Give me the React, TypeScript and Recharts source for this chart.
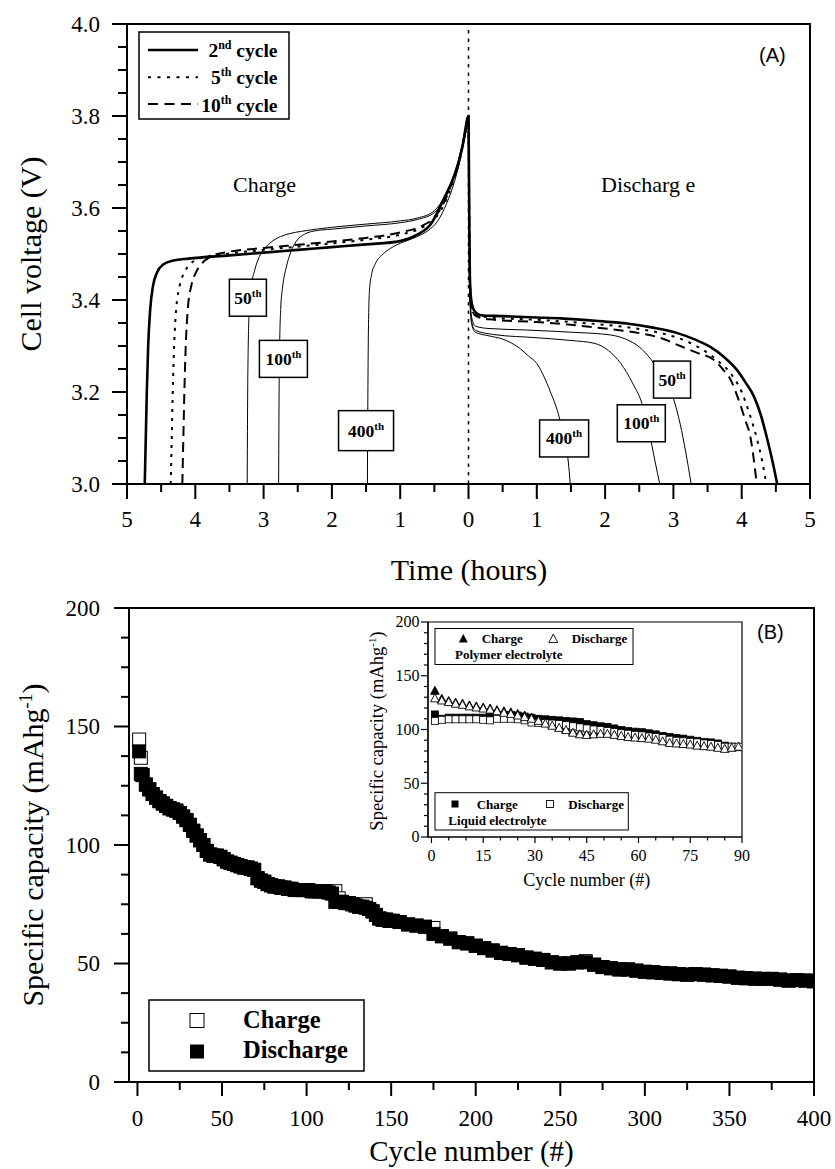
import React from 'react';
import {
  LineChart,
  Line,
  ScatterChart,
  Scatter,
  XAxis,
  YAxis,
  ReferenceLine,
  ReferenceArea,
  ReferenceDot,
} from 'recharts';

const SERIF = '"Liberation Serif", "Times New Roman", Times, serif';
const SANS = '"Liberation Sans", Arial, Helvetica, sans-serif';

type Pt = [number, number];

// ---- (A) voltage profiles, [hours, volts]. Charge hours count back to the end of charge.
const cycle2Charge: Pt[] = [
  [4.74, 3.0], [4.725, 3.1], [4.71, 3.2], [4.69, 3.3], [4.66, 3.38], [4.62, 3.43], [4.56, 3.46],
  [4.47, 3.477], [4.32, 3.486], [4.1, 3.49], [3.5, 3.497], [3.0, 3.503], [2.5, 3.509], [2.0, 3.515],
  [1.5, 3.521], [1.0, 3.528], [0.75, 3.542], [0.55, 3.565], [0.37, 3.617], [0.25, 3.655],
  [0.16, 3.69], [0.08, 3.74], [0, 3.8],
];
const cycle2Discharge: Pt[] = [
  [0.01, 3.6], [0.02, 3.45], [0.04, 3.4], [0.08, 3.378], [0.18, 3.367], [0.5, 3.365], [1.0, 3.362],
  [1.35, 3.36], [2.0, 3.353], [2.32, 3.349], [2.7, 3.34], [3.06, 3.328], [3.3, 3.315], [3.54, 3.298],
  [3.75, 3.275], [3.93, 3.248], [4.05, 3.222], [4.18, 3.19], [4.28, 3.15], [4.37, 3.1], [4.45, 3.05],
  [4.52, 3.0],
];
const cycle5Charge: Pt[] = [
  [4.36, 3.0], [4.345, 3.1], [4.33, 3.2], [4.31, 3.3], [4.28, 3.38], [4.23, 3.43], [4.16, 3.46],
  [4.06, 3.48], [3.9, 3.492], [3.5, 3.501], [3.0, 3.509], [2.5, 3.516], [2.0, 3.523], [1.5, 3.531],
  [1.0, 3.542], [0.7, 3.556], [0.5, 3.576], [0.35, 3.61], [0.22, 3.66], [0.12, 3.71], [0.05, 3.76],
  [0, 3.8],
];
const cycle5Discharge: Pt[] = [
  [0.01, 3.6], [0.02, 3.44], [0.05, 3.385], [0.1, 3.37], [0.3, 3.362], [1.0, 3.357], [1.5, 3.352],
  [2.0, 3.346], [2.5, 3.337], [2.9, 3.325], [3.2, 3.31], [3.45, 3.29], [3.65, 3.268], [3.85, 3.238],
  [4.0, 3.2], [4.12, 3.15], [4.22, 3.1], [4.3, 3.05], [4.36, 3.0],
];
const cycle10Charge: Pt[] = [
  [4.19, 3.0], [4.175, 3.1], [4.16, 3.2], [4.14, 3.3], [4.11, 3.38], [4.06, 3.43], [3.99, 3.46],
  [3.9, 3.48], [3.75, 3.496], [3.5, 3.505], [3.0, 3.513], [2.5, 3.52], [2.0, 3.527], [1.5, 3.535],
  [1.0, 3.547], [0.7, 3.56], [0.5, 3.58], [0.35, 3.615], [0.22, 3.665], [0.12, 3.715], [0.05, 3.765],
  [0, 3.8],
];
const cycle10Discharge: Pt[] = [
  [0.01, 3.6], [0.02, 3.44], [0.05, 3.382], [0.1, 3.366], [0.3, 3.358], [1.0, 3.352], [1.5, 3.346],
  [2.0, 3.338], [2.5, 3.328], [2.8, 3.318], [3.1, 3.3], [3.35, 3.285], [3.59, 3.27], [3.72, 3.25],
  [3.84, 3.226], [3.95, 3.185], [4.05, 3.14], [4.13, 3.1], [4.18, 3.05], [4.22, 3.0],
];
const cycle50Charge: Pt[] = [
  [3.24, 3.0], [3.237, 3.1], [3.233, 3.2], [3.225, 3.3], [3.21, 3.38], [3.18, 3.43], [3.13, 3.465],
  [3.06, 3.495], [3.0, 3.509], [2.88, 3.527], [2.75, 3.538], [2.6, 3.545], [2.46, 3.549], [2.0, 3.558],
  [1.5, 3.565], [1.0, 3.572], [0.75, 3.578], [0.5, 3.594], [0.35, 3.625], [0.22, 3.67], [0.12, 3.72],
  [0.05, 3.765], [0, 3.8],
];
const cycle50Discharge: Pt[] = [
  [0.01, 3.6], [0.02, 3.42], [0.05, 3.36], [0.1, 3.343], [0.3, 3.338], [0.8, 3.335], [1.5, 3.33],
  [2.08, 3.324], [2.3, 3.315], [2.5, 3.298], [2.66, 3.273], [2.85, 3.23], [3.0, 3.186], [3.1, 3.13],
  [3.18, 3.07], [3.26, 3.0],
];
const cycle100Charge: Pt[] = [
  [2.78, 3.0], [2.777, 3.1], [2.773, 3.2], [2.765, 3.3], [2.75, 3.38], [2.72, 3.43], [2.67, 3.47],
  [2.6, 3.505], [2.52, 3.528], [2.4, 3.543], [2.26, 3.55], [2.0, 3.554], [1.5, 3.561], [1.0, 3.568],
  [0.75, 3.575], [0.5, 3.59], [0.35, 3.62], [0.22, 3.665], [0.12, 3.715], [0.05, 3.765], [0, 3.8],
];
const cycle100Discharge: Pt[] = [
  [0.01, 3.6], [0.02, 3.41], [0.05, 3.35], [0.1, 3.334], [0.37, 3.325], [1.0, 3.318], [1.5, 3.312],
  [1.84, 3.306], [2.05, 3.29], [2.23, 3.262], [2.4, 3.22], [2.54, 3.175], [2.65, 3.11], [2.73, 3.05],
  [2.8, 3.0],
];
const cycle400Charge: Pt[] = [
  [1.48, 3.0], [1.477, 3.1], [1.473, 3.2], [1.468, 3.3], [1.46, 3.38], [1.45, 3.42], [1.42, 3.455],
  [1.36, 3.48], [1.25, 3.5], [1.1, 3.516], [0.9, 3.529], [0.75, 3.538], [0.6, 3.55], [0.45, 3.572],
  [0.32, 3.61], [0.2, 3.66], [0.1, 3.72], [0.04, 3.765], [0, 3.8],
];
const cycle400Discharge: Pt[] = [
  [0.01, 3.6], [0.02, 3.4], [0.05, 3.345], [0.1, 3.33], [0.3, 3.322], [0.5, 3.315], [0.61, 3.308],
  [0.75, 3.295], [0.88, 3.278], [1.0, 3.262], [1.1, 3.235], [1.2, 3.2], [1.3, 3.16], [1.4, 3.1],
  [1.46, 3.05], [1.49, 3.0],
];

// cycle tags on panel A (time in signed hours, volts)
const cycleTags = [
  { n: '50', t: -3.23, v: 3.405, w: 37, h: 37 },
  { n: '100', t: -2.71, v: 3.272, w: 48, h: 37 },
  { n: '400', t: -1.5, v: 3.116, w: 55, h: 40 },
  { n: '50', t: 2.98, v: 3.227, w: 37, h: 37 },
  { n: '100', t: 2.53, v: 3.132, w: 48, h: 37 },
  { n: '400', t: 1.4, v: 3.099, w: 49, h: 37 },
];

// ---- (B) specific capacity vs cycle number
const cycleNumbers = [
  1, 2,
  3, 5, 7, 9, 11, 13, 15, 17, 19, 21,
  23, 25, 27, 29, 31, 33, 35, 37, 39, 41,
  43, 45, 47, 49, 51, 53, 55, 57, 59, 61,
  63, 65, 67, 69, 71, 73, 75, 77, 79, 81,
  83, 85, 87, 89, 91, 93, 95, 97, 99, 101,
  103, 105, 107, 109, 111, 113, 115, 117, 119, 121,
  123, 125, 127, 129, 131, 133, 135, 137, 139, 141,
  143, 145, 147, 149, 151,
  155, 160, 165, 170, 175, 180, 185, 190, 195, 200,
  205, 210, 215, 220, 225, 230, 235, 240, 245, 250,
  255, 260, 265, 270, 275, 280, 285, 290, 295, 300,
  305, 310, 315, 320, 325, 330, 335, 340, 345, 350,
  355, 360, 365, 370, 375, 380, 385, 390, 395, 400,
];
const chargeCapacity = [
  144.5, 136.8,
  129.5, 125.5, 123.5, 121.5, 120, 118.5, 117.5, 116.5, 115.5, 115,
  114.5, 113.5, 112, 110.5, 108.5, 106, 104, 102, 100, 97.5,
  96, 95.5, 95.5, 95, 94, 93, 92.5, 92, 91.5, 91,
  90.5, 90.5, 90, 89.5, 86, 85, 84.5, 83.5, 83, 82.5,
  82.5, 82, 82, 81.5, 81.5, 81, 81, 81, 81, 81,
  80.5, 80.5, 80.5, 80.5, 80.5, 80, 80, 80.5, 77.5, 76,
  75.5, 75.5, 75, 74.5, 74, 74, 75, 73, 72, 70.5,
  69, 68.5, 68.5, 68, 68,
  67.5, 66.5, 66, 65.5, 65, 61.5, 60.5, 59, 58.5, 57.5,
  56.5, 55.5, 54.5, 54, 53.5, 52.5, 52, 51.5, 50.5, 50,
  50, 50.5, 51, 49.5, 48.5, 48, 47.5, 47.5, 47, 46.5,
  46.3, 46, 45.8, 45.5, 45.3, 45.5, 45.3, 45, 44.8, 44.5,
  44, 43.8, 43.6, 43.5, 43.5, 43.2, 42.8, 43, 42.8, 42.5,
];
const dischargeCapacity = [
  139.5, 130,
  129.5, 125.5, 123.5, 121.5, 120, 118.5, 117.5, 116.5, 115.5, 115,
  114.5, 113.5, 112, 110.5, 108.5, 106, 104, 102, 100, 97.5,
  96, 95.5, 95.5, 95, 94, 93, 92.5, 92, 91.5, 91,
  90.5, 90.5, 90, 89.5, 86, 85, 84.5, 83.5, 83, 82.5,
  82.5, 82, 82, 81.5, 81.5, 81, 81, 81, 81, 81,
  80.5, 80.5, 80.5, 80.5, 80.5, 80, 79.5, 76, 76, 76,
  75.5, 75.5, 75, 74.5, 74, 74, 73.5, 73, 72, 70.5,
  69, 68.5, 68.5, 68, 68,
  67.5, 66.5, 66, 65.5, 62.5, 61.5, 60.5, 59, 58.5, 57.5,
  56.5, 55.5, 54.5, 54, 53.5, 52.5, 52, 51.5, 50.5, 50,
  50, 50.5, 50.5, 49.5, 48.5, 48, 47.5, 47.5, 47, 46.5,
  46.3, 46, 45.8, 45.5, 45.3, 45.5, 45.3, 45, 44.8, 44.5,
  44, 43.8, 43.6, 43.5, 43.5, 43.2, 42.8, 43, 42.8, 42.5,
];

// ---- inset: first 90 cycles, polymer vs liquid electrolyte
const insetCycles = [
  1, 3, 5, 7, 9, 11, 13, 15, 17, 19, 21, 23, 25, 27, 29, 31, 33, 35, 37, 39, 41, 43, 45, 47, 49, 51, 53,
  55, 57, 59, 61, 63, 65, 67, 69, 71, 73, 75, 77, 79, 81, 83, 85, 87, 89,
];
const polymerCharge = [
  136, 128.5, 126.5, 125, 124, 122.5, 121.5, 120.5, 119.5, 118, 117, 116, 114.5, 113, 111, 109, 106.5,
  104.5, 102.5, 100.5, 98, 96.5, 96, 96.5, 97, 97, 96, 95, 94, 93.5, 93, 92.5, 91.5, 90, 88.5, 88, 87.5,
  87, 86, 85.5, 85, 84, 83, 83.5, 84,
];
const polymerDischarge = [
  129, 127, 125.5, 124, 123, 121.5, 120.5, 119.5, 118.5, 117, 115.5, 114.5, 113, 111.5, 110, 108, 105.5,
  103.5, 101.5, 99.5, 97, 95.5, 95, 95.5, 96, 96, 95, 94, 93, 92.5, 92, 91.5, 90.5, 89, 87.5, 87, 86.5,
  86, 85, 84.5, 84, 83, 82, 83, 84,
];
const liquidCharge = [
  114, 110, 111, 111, 111, 111, 111, 111, 111.5, 112, 113, 113.5, 113, 112, 111, 110, 109.5, 109, 108.5,
  108, 107.5, 107, 105, 104, 103, 102.5, 101, 99.5, 98.5, 98, 97.5, 96.5, 95.5, 94, 93, 92, 91.5, 90.5,
  89.5, 88.5, 88, 87, 85, 84, 83.5,
];
const liquidDischarge = [
  108, 109, 109.5, 109.5, 109.5, 109.5, 109.5, 109, 108.5, 110, 110, 110, 109.5, 108.5, 106.5, 106, 106,
  105.5, 105, 104, 103, 102, 101, 100, 99.5, 98.5, 97.5, 96.5, 96, 95, 94.5, 93.5, 93, 92, 90.5, 89.5,
  89, 88.5, 88, 87, 86.5, 85.5, 84, 84, 84,
];

// ---- tick values
const hourTicks = Array.from({ length: 21 }, (_, i) => -5 + i * 0.5);
const voltTicks = Array.from({ length: 21 }, (_, i) => (300 + i * 5) / 100);
const cycleTicks = Array.from({ length: 17 }, (_, i) => i * 25);
const capacityTicks = Array.from({ length: 17 }, (_, i) => i * 12.5);
const insetCycleTicks = Array.from({ length: 19 }, (_, i) => i * 5);
const insetCapacityTicks = Array.from({ length: 21 }, (_, i) => i * 10);

function profile(charge: Pt[], discharge: Pt[]) {
  return [
    ...charge.map(([h, v]) => ({ t: -h, v })),
    ...discharge.map(([h, v]) => ({ t: h, v })),
  ];
}

const zip = (xs: number[], ys: number[]) => xs.map((c, i) => ({ c, v: ys[i] }));

const profiles = [
  { name: '400th', data: profile(cycle400Charge, cycle400Discharge), width: 1 },
  { name: '100th', data: profile(cycle100Charge, cycle100Discharge), width: 1 },
  { name: '50th', data: profile(cycle50Charge, cycle50Discharge), width: 1 },
  { name: '10th', data: profile(cycle10Charge, cycle10Discharge), width: 2, dash: '10 6' },
  { name: '5th', data: profile(cycle5Charge, cycle5Discharge), width: 2, dash: '3 6' },
  { name: '2nd', data: profile(cycle2Charge, cycle2Discharge), width: 2.6 },
];

type TickCfg = {
  major: (v: number) => boolean;
  label: (v: number) => string;
  majorLen: number;
  minorLen: number;
  gap: number;
  size: number;
  width: number;
};

const bottomTick = (cfg: TickCfg) => (p: any) => {
  const v = p.payload.value;
  const isMajor = cfg.major(v);
  return (
    <g>
      <line x1={p.x} x2={p.x} y1={p.y} y2={p.y + (isMajor ? cfg.majorLen : cfg.minorLen)} stroke="#000" strokeWidth={cfg.width} />
      {isMajor && (
        <text x={p.x} y={p.y + cfg.gap} textAnchor="middle" fontFamily={SERIF} fontSize={cfg.size} fill="#000">
          {cfg.label(v)}
        </text>
      )}
    </g>
  );
};

const leftTick = (cfg: TickCfg) => (p: any) => {
  const v = p.payload.value;
  const isMajor = cfg.major(v);
  return (
    <g>
      <line x1={p.x - (isMajor ? cfg.majorLen : cfg.minorLen)} x2={p.x} y1={p.y} y2={p.y} stroke="#000" strokeWidth={cfg.width} />
      {isMajor && (
        <text x={p.x - cfg.gap} y={p.y + cfg.size * 0.34} textAnchor="end" fontFamily={SERIF} fontSize={cfg.size} fill="#000">
          {cfg.label(v)}
        </text>
      )}
    </g>
  );
};

const axisStyle = { stroke: '#000', strokeWidth: 2 };

function CycleTag({ cx, cy, n, w, h }: { cx: number; cy: number; n: string; w: number; h: number }) {
  return (
    <g>
      <rect x={cx - w / 2} y={cy - h / 2} width={w} height={h} fill="#fff" stroke="#000" strokeWidth={1.5} />
      <text x={cx} y={cy + 6} textAnchor="middle" fontFamily={SERIF} fontWeight="bold" fontSize={17.5} fill="#000">
        {n}
        <tspan dy={-7} fontSize={11}>th</tspan>
      </text>
    </g>
  );
}

const square = (size: number, filled: boolean, sw = 1) => (p: any) => (
  <rect x={p.cx - size / 2} y={p.cy - size / 2} width={size} height={size} fill={filled ? '#000' : '#fff'} stroke="#000" strokeWidth={sw} />
);

const triangle = (filled: boolean) => (p: any) => (
  <polygon
    points={`${p.cx},${p.cy - 4.5} ${p.cx + 4.3},${p.cy + 3.5} ${p.cx - 4.3},${p.cy + 3.5}`}
    fill={filled ? '#000' : '#fff'}
    stroke="#000"
    strokeWidth={0.9}
  />
);

function VoltageChart() {
  return (
    <LineChart width={835} height={590} margin={{ top: 24, right: 25, bottom: 0, left: 0 }}>
      <XAxis
        type="number"
        dataKey="t"
        domain={[-5, 5]}
        ticks={hourTicks}
        interval={0}
        allowDataOverflow
        tickSize={0}
        tickMargin={0}
        tickLine={false}
        axisLine={axisStyle}
        height={106}
        tick={bottomTick({
          major: (v) => Number.isInteger(v),
          label: (v) => String(Math.abs(v)),
          majorLen: 15,
          minorLen: 8,
          gap: 43,
          size: 23,
          width: 2,
        })}
      />
      <YAxis
        type="number"
        dataKey="v"
        domain={[3, 4]}
        ticks={voltTicks}
        interval={0}
        allowDataOverflow
        tickSize={0}
        tickMargin={0}
        tickLine={false}
        axisLine={axisStyle}
        width={127}
        tick={leftTick({
          major: (v) => Math.round(v * 100) % 20 === 0,
          label: (v) => v.toFixed(1),
          majorLen: 15,
          minorLen: 9,
          gap: 27,
          size: 23,
          width: 2,
        })}
      />
      <ReferenceLine x={0} stroke="#000" strokeWidth={1.5} strokeDasharray="3.5 5" />
      {profiles.map((p) => (
        <Line
          key={p.name}
          name={p.name}
          data={p.data}
          dataKey="v"
          type="monotone"
          stroke="#000"
          strokeWidth={p.width}
          strokeDasharray={p.dash}
          dot={false}
          activeDot={false}
          isAnimationActive={false}
        />
      ))}
      <ReferenceArea x1={-5} x2={5} y1={3} y2={4} fill="none" stroke="#000" strokeWidth={2} ifOverflow="visible" />
      {cycleTags.map((tag, i) => (
        <ReferenceDot
          key={i}
          x={tag.t}
          y={tag.v}
          r={1}
          ifOverflow="visible"
          shape={(sp: any) => <CycleTag cx={sp.cx} cy={sp.cy} n={tag.n} w={tag.w} h={tag.h} />}
        />
      ))}
    </LineChart>
  );
}

function CapacityChart() {
  return (
    <ScatterChart width={835} height={579} margin={{ top: 18, right: 21, bottom: 0, left: 0 }}>
      <XAxis
        type="number"
        dataKey="c"
        domain={[-5, 400]}
        ticks={cycleTicks}
        interval={0}
        allowDataOverflow
        tickSize={0}
        tickMargin={0}
        tickLine={false}
        axisLine={axisStyle}
        height={87}
        tick={bottomTick({
          major: (v) => v % 50 === 0,
          label: (v) => String(v),
          majorLen: 14,
          minorLen: 8,
          gap: 44,
          size: 23,
          width: 2,
        })}
      />
      <YAxis
        type="number"
        dataKey="v"
        domain={[0, 200]}
        ticks={capacityTicks}
        interval={0}
        allowDataOverflow
        tickSize={0}
        tickMargin={0}
        tickLine={false}
        axisLine={axisStyle}
        width={129}
        tick={leftTick({
          major: (v) => v % 50 === 0,
          label: (v) => String(v),
          majorLen: 15,
          minorLen: 8,
          gap: 29,
          size: 23,
          width: 2,
        })}
      />
      <Scatter name="Charge" data={zip(cycleNumbers, chargeCapacity)} shape={square(13, false)} isAnimationActive={false} />
      <Scatter name="Discharge" data={zip(cycleNumbers, dischargeCapacity)} shape={square(13, true)} isAnimationActive={false} />
      <ReferenceArea x1={-5} x2={400} y1={0} y2={200} fill="none" stroke="#000" strokeWidth={2} ifOverflow="visible" />
    </ScatterChart>
  );
}

function InsetChart() {
  return (
    <ScatterChart width={424} height={300} margin={{ top: 22, right: 22, bottom: 0, left: 0 }}>
      <XAxis
        type="number"
        dataKey="c"
        domain={[-1, 90]}
        ticks={insetCycleTicks}
        interval={0}
        allowDataOverflow
        tickSize={0}
        tickMargin={0}
        tickLine={false}
        axisLine={{ stroke: '#000', strokeWidth: 1.2 }}
        height={63}
        tick={bottomTick({
          major: (v) => v % 15 === 0,
          label: (v) => String(v),
          majorLen: 6,
          minorLen: 3.5,
          gap: 24,
          size: 16,
          width: 1.2,
        })}
      />
      <YAxis
        type="number"
        dataKey="v"
        domain={[0, 200]}
        ticks={insetCapacityTicks}
        interval={0}
        allowDataOverflow
        tickSize={0}
        tickMargin={0}
        tickLine={false}
        axisLine={{ stroke: '#000', strokeWidth: 1.2 }}
        width={88}
        tick={leftTick({
          major: (v) => v % 50 === 0,
          label: (v) => String(v),
          majorLen: 7,
          minorLen: 4,
          gap: 8.5,
          size: 16,
          width: 1.2,
        })}
      />
      <Scatter name="Liquid charge" data={zip(insetCycles, liquidCharge)} shape={square(7, true, 0.8)} isAnimationActive={false} />
      <Scatter name="Polymer charge" data={zip(insetCycles, polymerCharge)} shape={triangle(true)} isAnimationActive={false} />
      <Scatter name="Liquid discharge" data={zip(insetCycles, liquidDischarge)} shape={square(7, false, 0.8)} isAnimationActive={false} />
      <Scatter name="Polymer discharge" data={zip(insetCycles, polymerDischarge)} shape={triangle(false)} isAnimationActive={false} />
      <ReferenceArea x1={-1} x2={90} y1={0} y2={200} fill="none" stroke="#000" strokeWidth={1.2} ifOverflow="visible" />
    </ScatterChart>
  );
}

function Overlay() {
  return (
    <svg
      width={835}
      height={1169}
      style={{ position: 'absolute', left: 0, top: 0, pointerEvents: 'none' }}
      fontFamily={SERIF}
      fill="#000"
    >
      {/* panel A */}
      <text transform="translate(41,254) rotate(-90)" textAnchor="middle" fontSize={30}>Cell voltage (V)</text>
      <text x={469} y={580} textAnchor="middle" fontSize={30}>Time (hours)</text>
      <text x={233} y={192} fontSize={22}>Charge</text>
      <text x={601} y={192} fontSize={22}>Discharg e</text>
      <text x={759} y={61.5} fontFamily={SANS} fontSize={20}>(A)</text>

      <rect x={139} y={32} width={150} height={87} fill="#fff" stroke="#000" strokeWidth={1.5} />
      <line x1={148} x2={198} y1={50} y2={50} stroke="#000" strokeWidth={2.6} />
      <line x1={148} x2={198} y1={77.3} y2={77.3} stroke="#000" strokeWidth={2} strokeDasharray="3 6.5" />
      <line x1={148} x2={198} y1={104} y2={104} stroke="#000" strokeWidth={2} strokeDasharray="10 6.5" />
      <text x={277.5} y={56.7} textAnchor="end" fontWeight="bold" fontSize={19.5}>
        2<tspan dy={-8} fontSize={12}>nd</tspan><tspan dy={8}> cycle</tspan>
      </text>
      <text x={277.5} y={84} textAnchor="end" fontWeight="bold" fontSize={19.5}>
        5<tspan dy={-8} fontSize={12}>th</tspan><tspan dy={8}> cycle</tspan>
      </text>
      <text x={277.5} y={111.7} textAnchor="end" fontWeight="bold" fontSize={19.5}>
        10<tspan dy={-8} fontSize={12}>th</tspan><tspan dy={8}> cycle</tspan>
      </text>

      {/* panel B */}
      <text transform="translate(43,845) rotate(-90)" textAnchor="middle" fontSize={30}>
        Specific capacity (mAhg<tspan dy={-11} fontSize={18}>-1</tspan><tspan dy={11}>)</tspan>
      </text>
      <text x={471.5} y={1161} textAnchor="middle" fontSize={29}>Cycle number (#)</text>
      <text x={757} y={639} fontFamily={SANS} fontSize={20}>(B)</text>

      <rect x={149} y={1000} width={215} height={71} fill="#fff" stroke="#000" strokeWidth={1.5} />
      <rect x={190} y={1013.5} width={14} height={14} fill="#fff" stroke="#000" strokeWidth={1} />
      <text x={243} y={1028} fontWeight="bold" fontSize={24.5}>Charge</text>
      <rect x={190} y={1044.5} width={14} height={14} fill="#000" />
      <text x={243} y={1058} fontWeight="bold" fontSize={24.5}>Discharge</text>

      {/* inset legends and titles */}
      <rect x={435} y={628.5} width={198} height={36} fill="#fff" stroke="#000" strokeWidth={1} />
      <polygon points="463.3,634 467.8,642.5 458.8,642.5" fill="#000" />
      <text x={481.7} y={643.3} fontWeight="bold" fontSize={13}>Charge</text>
      <polygon points="553.3,634 557.8,642.5 548.8,642.5" fill="#fff" stroke="#000" strokeWidth={0.9} />
      <text x={571.7} y={643.3} fontWeight="bold" fontSize={13}>Discharge</text>
      <text x={455} y={658.5} fontWeight="bold" fontSize={13}>Polymer electrolyte</text>

      <rect x={435} y={792.7} width={193.3} height={37.3} fill="#fff" stroke="#000" strokeWidth={1} />
      <rect x={451.5} y={800.5} width={7} height={7} fill="#000" />
      <text x={476.7} y={808.5} fontWeight="bold" fontSize={13}>Charge</text>
      <rect x={546.5} y={800.5} width={7} height={7} fill="#fff" stroke="#000" strokeWidth={0.9} />
      <text x={568.3} y={808.5} fontWeight="bold" fontSize={13}>Discharge</text>
      <text x={448.3} y={825} fontWeight="bold" fontSize={13}>Liquid electrolyte</text>

      <text transform="translate(383,731) rotate(-90)" textAnchor="middle" fontSize={18.5}>
        Specific capacity (mAhg<tspan dy={-7} fontSize={11}>-1</tspan><tspan dy={7}>)</tspan>
      </text>
      <text x={586.7} y={886} textAnchor="middle" fontSize={18}>Cycle number (#)</text>
    </svg>
  );
}

export default function App() {
  return (
    <div style={{ position: 'absolute', left: 0, top: 0, width: 835, height: 1169, background: '#fff', overflow: 'hidden' }}>
      <div style={{ position: 'absolute', left: 0, top: 0 }}>
        <VoltageChart />
      </div>
      <div style={{ position: 'absolute', left: 0, top: 590 }}>
        <CapacityChart />
      </div>
      <div style={{ position: 'absolute', left: 340, top: 600 }}>
        <InsetChart />
      </div>
      <Overlay />
    </div>
  );
}
